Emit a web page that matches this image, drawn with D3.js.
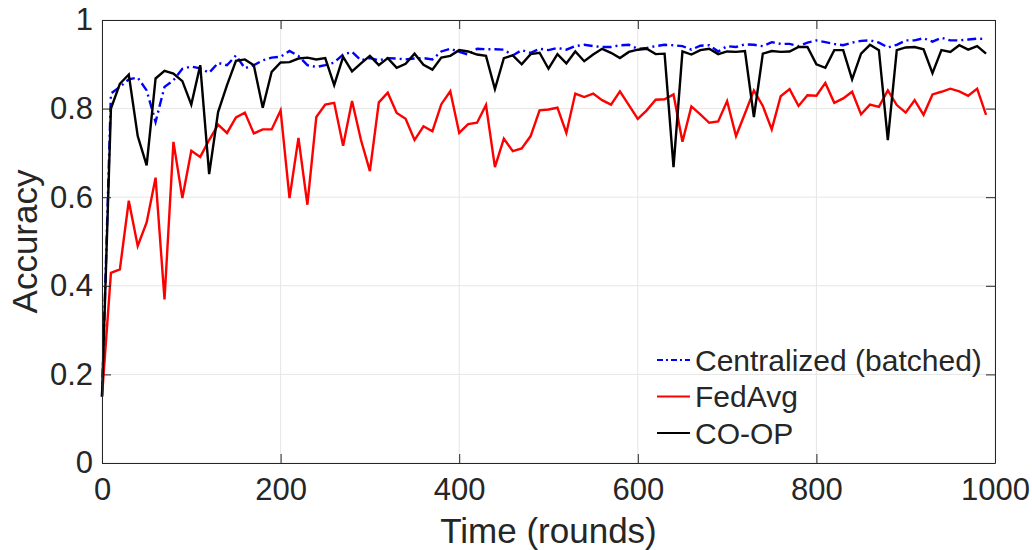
<!DOCTYPE html>
<html>
<head>
<meta charset="utf-8">
<script src="https://cdn.jsdelivr.net/npm/d3@7"></script>
<style>
  body { margin: 0; background: #fff; }
  text { font-family: "Liberation Sans", Arial, Helvetica, sans-serif; fill: #262626; }
</style>
</head>
<body>
<svg width="1032" height="550"></svg>
<script>
// rounds 0..990, sampled every 10 rounds
var rounds = d3.range(0, 1000, 10);

var centralized = [0.15, 0.834, 0.849, 0.866, 0.870, 0.841, 0.770, 0.849, 0.864, 0.890,
  0.895, 0.891, 0.881, 0.903, 0.898, 0.920, 0.891, 0.898, 0.909, 0.915,
  0.917, 0.930, 0.919, 0.898, 0.894, 0.898, 0.904, 0.922, 0.928, 0.909,
  0.914, 0.909, 0.914, 0.913, 0.911, 0.913, 0.914, 0.911, 0.929, 0.935,
  0.928, 0.922, 0.935, 0.934, 0.934, 0.933, 0.920, 0.932, 0.926, 0.935,
  0.932, 0.937, 0.933, 0.941, 0.944, 0.941, 0.939, 0.939, 0.943, 0.944,
  0.935, 0.937, 0.941, 0.944, 0.943, 0.941, 0.933, 0.942, 0.943, 0.929,
  0.941, 0.939, 0.945, 0.944, 0.941, 0.950, 0.946, 0.946, 0.941, 0.949,
  0.954, 0.950, 0.946, 0.943, 0.949, 0.953, 0.954, 0.949, 0.938, 0.944,
  0.954, 0.954, 0.959, 0.951, 0.960, 0.954, 0.954, 0.956, 0.958, 0.957];

var fedavg = [0.15, 0.429, 0.437, 0.592, 0.490, 0.543, 0.644, 0.369, 0.725, 0.598,
  0.705, 0.691, 0.729, 0.764, 0.745, 0.780, 0.791, 0.744, 0.753, 0.753,
  0.796, 0.598, 0.734, 0.583, 0.781, 0.809, 0.813, 0.716, 0.817, 0.729,
  0.659, 0.814, 0.836, 0.790, 0.777, 0.729, 0.760, 0.749, 0.810, 0.839,
  0.745, 0.765, 0.768, 0.808, 0.668, 0.732, 0.704, 0.710, 0.738, 0.796,
  0.798, 0.802, 0.745, 0.834, 0.826, 0.834, 0.819, 0.809, 0.839, 0.808,
  0.777, 0.796, 0.820, 0.821, 0.832, 0.725, 0.805, 0.787, 0.768, 0.771,
  0.817, 0.738, 0.789, 0.841, 0.806, 0.753, 0.828, 0.844, 0.806, 0.830,
  0.829, 0.858, 0.813, 0.823, 0.838, 0.787, 0.809, 0.804, 0.841, 0.808,
  0.791, 0.819, 0.786, 0.832, 0.838, 0.845, 0.839, 0.829, 0.845, 0.786];

var coop = [0.15, 0.800, 0.856, 0.877, 0.738, 0.672, 0.868, 0.885, 0.879, 0.862,
  0.809, 0.898, 0.652, 0.792, 0.853, 0.908, 0.911, 0.898, 0.802, 0.883,
  0.904, 0.905, 0.913, 0.915, 0.911, 0.914, 0.853, 0.917, 0.884, 0.902,
  0.919, 0.898, 0.914, 0.892, 0.901, 0.924, 0.899, 0.888, 0.915, 0.919,
  0.932, 0.929, 0.922, 0.919, 0.844, 0.914, 0.920, 0.900, 0.923, 0.926,
  0.890, 0.923, 0.902, 0.929, 0.907, 0.922, 0.935, 0.926, 0.914, 0.928,
  0.933, 0.935, 0.923, 0.924, 0.668, 0.929, 0.922, 0.932, 0.935, 0.923,
  0.929, 0.928, 0.930, 0.781, 0.924, 0.930, 0.928, 0.929, 0.939, 0.939,
  0.900, 0.892, 0.932, 0.932, 0.866, 0.924, 0.944, 0.932, 0.729, 0.932,
  0.938, 0.939, 0.934, 0.880, 0.932, 0.928, 0.943, 0.933, 0.941, 0.924];

var xTicks = [0, 200, 400, 600, 800, 1000];
var yTicks = [0, 0.2, 0.4, 0.6, 0.8, 1];

var series = [
  {name: "Centralized (batched)", values: centralized, color: "#0000ff", dash: "9,4,2,4"},
  {name: "FedAvg", values: fedavg, color: "#ff0000", dash: null},
  {name: "CO-OP", values: coop, color: "#000000", dash: null}
];

var svg = d3.select("svg"),
    margin = {top: 20, right: 37, bottom: 87, left: 102},
    width = +svg.attr("width") - margin.left - margin.right,
    height = +svg.attr("height") - margin.top - margin.bottom,
    g = svg.append("g").attr("transform", "translate(" + margin.left + "," + margin.top + ")");

var x = d3.scaleLinear().domain([0, 1000]).range([0, width]);
var y = d3.scaleLinear().domain([0, 1]).range([height, 0]);

// grid
g.append("g")
  .selectAll("line")
  .data(xTicks)
  .enter().append("line")
    .attr("x1", function(d) { return x(d); })
    .attr("x2", function(d) { return x(d); })
    .attr("y1", 0)
    .attr("y2", height)
    .attr("stroke", "#e6e6e6")
    .attr("stroke-width", 1);

g.append("g")
  .selectAll("line")
  .data(yTicks)
  .enter().append("line")
    .attr("x1", 0)
    .attr("x2", width)
    .attr("y1", function(d) { return y(d); })
    .attr("y2", function(d) { return y(d); })
    .attr("stroke", "#e6e6e6")
    .attr("stroke-width", 1);

// lines
var line = d3.line()
    .x(function(d, i) { return x(rounds[i]); })
    .y(function(d) { return y(d); });

g.append("g")
  .selectAll("path")
  .data(series)
  .enter().append("path")
    .attr("d", function(d) { return line(d.values); })
    .attr("fill", "none")
    .attr("stroke", function(d) { return d.color; })
    .attr("stroke-width", 2.4)
    .attr("stroke-linejoin", "miter")
    .attr("stroke-dasharray", function(d) { return d.dash; });

// axes (box with inward ticks on all sides)
var tick = 9;
g.append("g")
    .attr("transform", "translate(0," + height + ")")
    .call(d3.axisBottom(x).tickValues(xTicks).tickFormat(d3.format("d")).tickSizeInner(-tick).tickSizeOuter(0).tickPadding(15))
    .call(function(a) {
      a.select(".domain").attr("stroke", "#262626");
      a.selectAll("line").attr("stroke", "#262626");
      a.selectAll("text").attr("font-size", 31).attr("fill", "#262626").attr("dy", "0.71em");
    });

g.append("g")
    .call(d3.axisLeft(y).tickValues(yTicks).tickFormat(d3.format("")).tickSizeInner(-tick).tickSizeOuter(0).tickPadding(9))
    .call(function(a) {
      a.select(".domain").attr("stroke", "#262626");
      a.selectAll("line").attr("stroke", "#262626");
      a.selectAll("text").attr("font-size", 31).attr("fill", "#262626");
    });

g.append("g")
    .call(d3.axisTop(x).tickValues(xTicks).tickSizeInner(-tick).tickSizeOuter(0).tickFormat(""))
    .call(function(a) {
      a.select(".domain").attr("stroke", "#262626");
      a.selectAll("line").attr("stroke", "#262626");
    });

g.append("g")
    .attr("transform", "translate(" + width + ",0)")
    .call(d3.axisRight(y).tickValues(yTicks).tickSizeInner(-tick).tickSizeOuter(0).tickFormat(""))
    .call(function(a) {
      a.select(".domain").attr("stroke", "#262626");
      a.selectAll("line").attr("stroke", "#262626");
    });

// axis titles
svg.append("text")
    .attr("x", margin.left + width / 2)
    .attr("y", 543)
    .attr("text-anchor", "middle")
    .attr("font-size", 35)
    .text("Time (rounds)");

svg.append("text")
    .attr("transform", "translate(37," + (margin.top + height / 2) + ") rotate(-90)")
    .attr("text-anchor", "middle")
    .attr("font-size", 35)
    .text("Accuracy");

// legend
var legend = svg.append("g")
  .selectAll("g")
  .data(series)
  .enter().append("g")
    .attr("transform", function(d, i) { return "translate(657," + (360 + i * 36.5) + ")"; });

legend.append("line")
    .attr("x1", 0)
    .attr("x2", 33)
    .attr("stroke", function(d) { return d.color; })
    .attr("stroke-width", 2)
    .attr("stroke-dasharray", function(d) { return d.dash ? "6,3,2,3" : null; });

legend.append("text")
    .attr("x", 38)
    .attr("dy", "0.35em")
    .attr("font-size", 30)
    .attr("fill", "#000")
    .text(function(d) { return d.name; });
</script>
</body>
</html>
